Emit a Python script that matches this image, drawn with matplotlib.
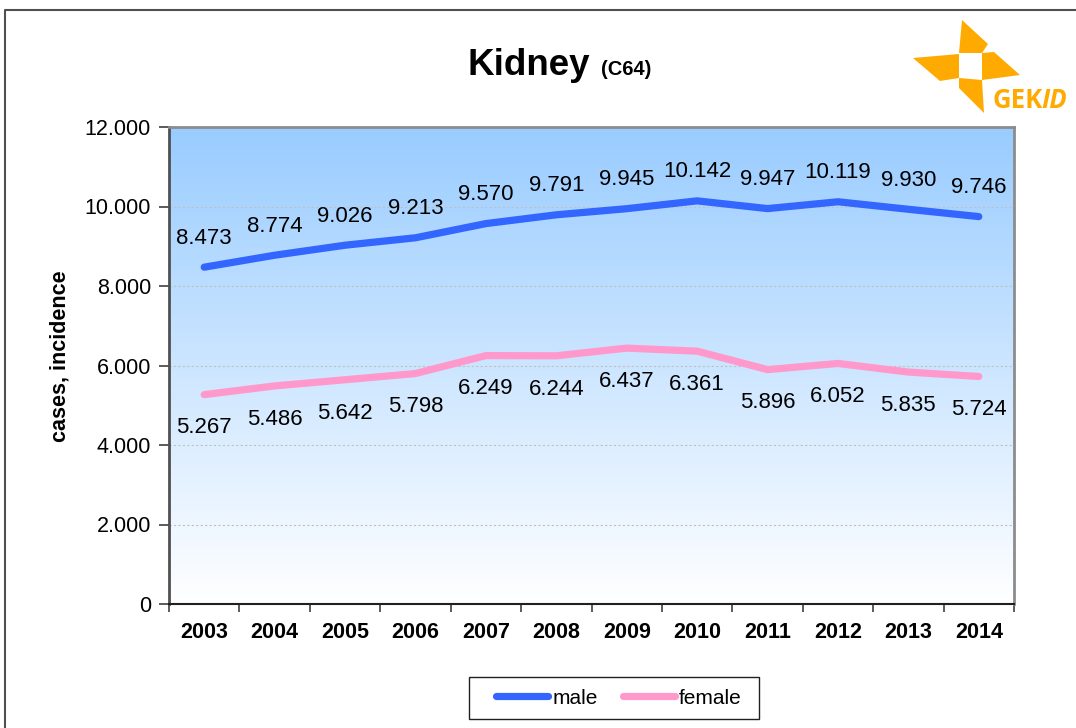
import matplotlib as mpl

mpl.use("Agg")

import matplotlib.pyplot as plt
import numpy as np
from matplotlib.lines import Line2D
from matplotlib.patches import Polygon, Rectangle

plt.rcParams["font.family"] = ["Liberation Sans", "DejaVu Sans"]

years = ["2003", "2004", "2005", "2006", "2007", "2008", "2009", "2010", "2011", "2012", "2013", "2014"]
male = [8473, 8774, 9026, 9213, 9570, 9791, 9945, 10142, 9947, 10119, 9930, 9746]
female = [5267, 5486, 5642, 5798, 6249, 6244, 6437, 6361, 5896, 6052, 5835, 5724]
y_ticks = [0, 2000, 4000, 6000, 8000, 10000, 12000]

BLUE = "#3366FF"
PINK = "#FF99CC"
ORANGE = "#FFAA00"


def fmt(v):
    # German thousands separator
    return f"{v:,}".replace(",", ".")


fig = plt.figure(figsize=(10.76, 7.28), dpi=100)
ax = fig.add_axes([169 / 1076, 1 - 604 / 728, 845 / 1076, 477 / 728])

x = np.arange(len(years))
ax.set_xlim(-0.5, len(years) - 0.5)
ax.set_ylim(0, 12000)

# vertical gradient background, light blue at top fading to white
grad = np.linspace(0, 1, 256).reshape(-1, 1)
cmap = mpl.colors.LinearSegmentedColormap.from_list("bg", ["#FFFFFF", "#99CCFF"])
ax.imshow(grad, aspect="auto", cmap=cmap, origin="lower",
          extent=(-0.5, len(years) - 0.5, 0, 12000), zorder=0)

for yv in y_ticks[1:-1]:
    ax.axhline(yv, color="#C0C0C0", lw=0.8, ls=(0, (2, 2)), zorder=1)

ax.plot(x, male, color=BLUE, lw=5.2, solid_capstyle="round", solid_joinstyle="round", zorder=3)
ax.plot(x, female, color=PINK, lw=5.2, solid_capstyle="round", solid_joinstyle="round", zorder=3)

for xi, m, f in zip(x, male, female):
    ax.annotate(fmt(m), (xi, m), xytext=(0, 21), textcoords="offset points",
                ha="center", va="center", fontsize=16, zorder=4)
    ax.annotate(fmt(f), (xi, f), xytext=(0, -24), textcoords="offset points",
                ha="center", va="center", fontsize=16, zorder=4)

ax.set_yticks(y_ticks)
ax.set_yticklabels([fmt(v) for v in y_ticks], fontsize=15.5)
ax.tick_params(axis="y", length=7, width=1.2, color="#404040", pad=6)

ax.set_xticks(x)
ax.set_xticklabels(years, fontsize=15.5, fontweight="bold")
ax.set_xticks(np.arange(-0.5, len(years)), minor=True)
ax.tick_params(axis="x", which="major", length=0, pad=13)
ax.tick_params(axis="x", which="minor", length=6, width=1.2, color="#404040")

ax.set_ylabel("cases, incidence", fontsize=15.5, fontweight="bold", va="center")
ax.yaxis.set_label_coords(-0.129, 0.52)

for side in ("top", "right"):
    ax.spines[side].set_color("#8C8C8C")
    ax.spines[side].set_linewidth(2.0)
ax.spines["left"].set_color("#505050")
ax.spines["left"].set_linewidth(2.0)
ax.spines["bottom"].set_color("#202020")
ax.spines["bottom"].set_linewidth(1.5)

# titles
fig.text(590 / 1076, 1 - 75 / 728, "Kidney", ha="right", va="baseline",
         fontsize=26.5, fontweight="bold")
fig.text(601 / 1076, 1 - 75 / 728, "(C64)", ha="left", va="baseline",
         fontsize=14.5, fontweight="bold")

# legend entries without frame; the box is drawn separately
handles = [Line2D([], [], color=BLUE, lw=5.2, solid_capstyle="round"),
           Line2D([], [], color=PINK, lw=5.2, solid_capstyle="round")]
fig.legend(handles, ["male", "female"], ncol=2, loc="center",
           bbox_to_anchor=(619 / 1076, 1 - 698 / 728), fontsize=15,
           frameon=False, handlelength=2.5, handletextpad=0.2,
           columnspacing=1.2, borderpad=0.45, borderaxespad=0)

# overlay in pixel coordinates for the page border, legend box and logo
ov = fig.add_axes([0, 0, 1, 1], zorder=-1)
ov.set_xlim(0, 1076)
ov.set_ylim(728, 0)
ov.axis("off")
ov.plot([5, 5, 1076], [728, 10, 10], color="#505050", lw=1.5)
ov.add_patch(Rectangle((469, 677), 290, 42, facecolor="white", edgecolor="#202020", lw=1.0))

logo = fig.add_axes([0, 0, 1, 1], zorder=5)
logo.set_xlim(0, 1076)
logo.set_ylim(728, 0)
logo.axis("off")
blades = [
    [(962, 20), (988, 44), (982, 53), (959, 53)],
    [(982, 53), (994, 52), (1020, 75), (982, 80)],
    [(913, 58), (959, 54), (959, 78), (940, 81)],
    [(959, 78), (982, 80), (984, 113), (959, 88)],
]
for pts in blades:
    logo.add_patch(Polygon(pts, closed=True, facecolor=ORANGE, edgecolor="none"))
logo.text(993, 108, "GEK", color=ORANGE, fontsize=18.5, ha="left", va="baseline",
          family="Open Sans", fontweight="bold")
logo.text(1041, 108, "ID", color=ORANGE, fontsize=18.5, ha="left", va="baseline",
          family="Open Sans", fontweight="bold", style="italic")

fig.savefig("out.png", dpi=100)
